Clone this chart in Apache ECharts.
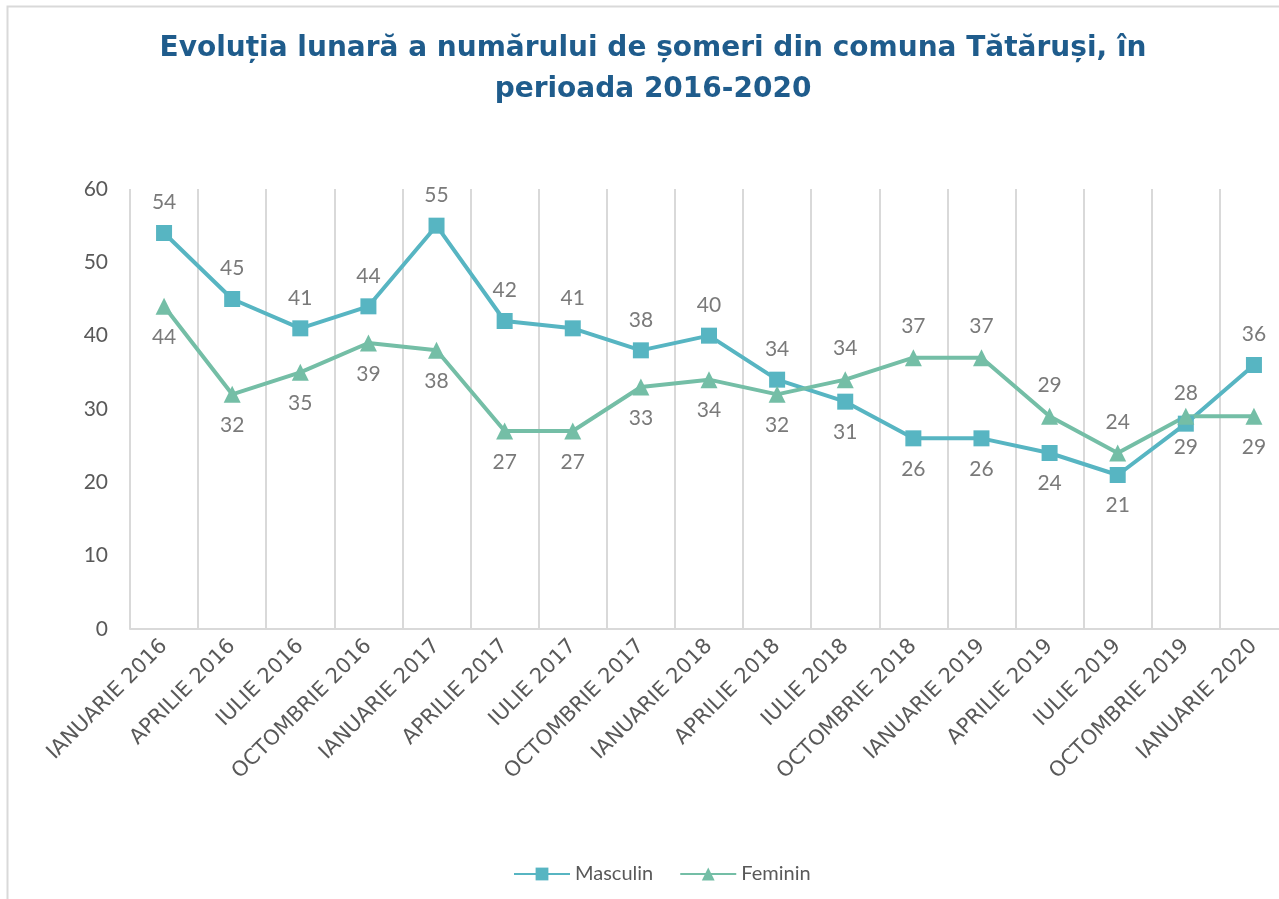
<!DOCTYPE html>
<html lang="ro">
<head>
    <meta charset="UTF-8">
    <title>Evoluția lunară a numărului de șomeri</title>
    <script src="https://cdn.jsdelivr.net/npm/echarts@6/dist/echarts.min.js"></script>
    <style>
        html, body {
            margin: 0;
            padding: 0;
            background: #fff;
        }

        #chart {
            width: 1279px;
            height: 899px;
        }
    </style>
</head>
<body>
<div id="chart"></div>
<script>
    var categories = ['IANUARIE 2016', 'APRILIE 2016', 'IULIE 2016', 'OCTOMBRIE 2016',
        'IANUARIE 2017', 'APRILIE 2017', 'IULIE 2017', 'OCTOMBRIE 2017',
        'IANUARIE 2018', 'APRILIE 2018', 'IULIE 2018', 'OCTOMBRIE 2018',
        'IANUARIE 2019', 'APRILIE 2019', 'IULIE 2019', 'OCTOMBRIE 2019', 'IANUARIE 2020'];
    var masculin = [54, 45, 41, 44, 55, 42, 41, 38, 40, 34, 31, 26, 26, 24, 21, 28, 36];
    var feminin = [44, 32, 35, 39, 38, 27, 27, 33, 34, 32, 34, 37, 37, 29, 24, 29, 29];
    // puncte unde eticheta pentru Masculin stă dedesubt (iar Feminin deasupra)
    var masculinJos = [10, 11, 12, 13, 14];
    var yTicks = [0, 10, 20, 30, 40, 50, 60];

    var font = 'Lato, "Open Sans", sans-serif';
    var wide = '"DejaVu Sans", sans-serif';
    var chart = echarts.init(document.getElementById('chart'));

    function withLabels(values, below) {
        return values.map(function (v, i) {
            var jos = masculinJos.indexOf(i) >= 0;
            if (below) jos = !jos;
            return {value: v, label: {position: jos ? 'bottom' : 'top'}};
        });
    }

    var labelStyle = {
        show: true,
        fontFamily: font,
        fontSize: 21,
        color: '#7a7a7a',
        distance: 12
    };

    chart.setOption({
        animation: false,
        textStyle: {fontFamily: font},
        graphic: [{
            type: 'rect',
            shape: {x: 7.5, y: 6.5, width: 1400, height: 1000},
            style: {fill: 'none', stroke: '#d9d9d9', lineWidth: 2},
            silent: true
        }],
        title: {
            text: 'Evoluția lunară a numărului de șomeri din comuna Tătăruși, în\nperioada 2016-2020',
            left: 648,
            textAlign: 'center',
            top: 23,
            textStyle: {
                fontFamily: wide,
                fontWeight: 'bold',
                fontSize: 28,
                lineHeight: 41,
                color: '#1f5c8c'
            }
        },
        legend: {
            top: 859,
            left: 508,
            itemWidth: 56,
            itemHeight: 16,
            itemGap: 26,
            textStyle: {fontFamily: font, fontSize: 20, color: '#595959'},
            data: ['Masculin', 'Feminin']
        },
        grid: {
            left: 130,
            top: 189,
            width: 1158,
            height: 440,
            outerBoundsMode: 'none'
        },
        xAxis: {
            type: 'category',
            data: categories,
            boundaryGap: true,
            axisLine: {lineStyle: {color: '#d9d9d9', width: 2}},
            axisTick: {show: false},
            axisLabel: {
                rotate: 45,
                interval: 0,
                margin: 14,
                fontFamily: wide,
                fontSize: 21,
                color: '#595959'
            },
            splitLine: {show: true, interval: 0, lineStyle: {color: '#d9d9d9', width: 2}}
        },
        yAxis: {
            type: 'value',
            min: yTicks[0],
            max: yTicks[yTicks.length - 1],
            interval: 10,
            axisLine: {show: false},
            axisTick: {show: false},
            splitLine: {show: false},
            axisLabel: {
                margin: 22,
                fontFamily: font,
                fontSize: 21,
                color: '#595959'
            }
        },
        series: [{
            name: 'Masculin',
            type: 'line',
            data: withLabels(masculin, false),
            symbol: 'rect',
            symbolSize: 16,
            lineStyle: {color: '#57b5c2', width: 4},
            itemStyle: {color: '#57b5c2'},
            label: labelStyle
        }, {
            name: 'Feminin',
            type: 'line',
            data: withLabels(feminin, true),
            symbol: 'triangle',
            symbolSize: 17,
            lineStyle: {color: '#74bea6', width: 4},
            itemStyle: {color: '#74bea6'},
            label: labelStyle
        }]
    });
</script>
</body>
</html>
